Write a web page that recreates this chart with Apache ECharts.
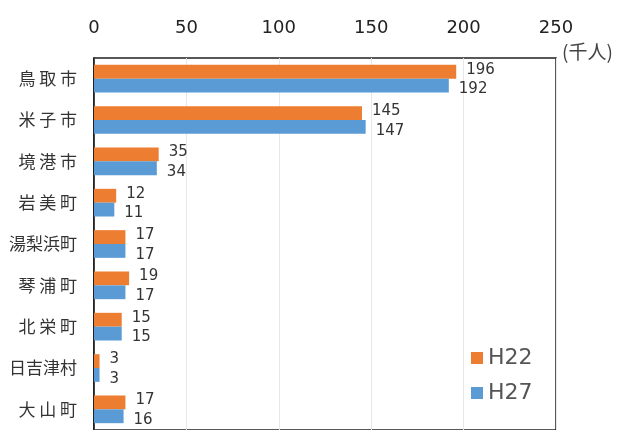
<!DOCTYPE html>
<html>
<head>
<meta charset="utf-8">
<script src="https://cdn.jsdelivr.net/npm/echarts@6/dist/echarts.min.js"></script>
<style>
  html, body { margin: 0; padding: 0; background: #fff; }
  #chart { width: 623px; height: 430px; }
</style>
</head>
<body>
<div id="chart"></div>
<script>
// 市町村ごとの人口（千人）
const cities = ['鳥取市', '米子市', '境港市', '岩美町', '湯梨浜町', '琴浦町', '北栄町', '日吉津村', '大山町'];
const h22 = [196, 145, 35, 12, 17, 19, 15, 3, 17];
const h27 = [192, 147, 34, 11, 17, 17, 15, 3, 16];
const seriesNames = ['H22', 'H27'];
const xTicks = [0, 50, 100, 150, 200, 250];

const FONT = '"Noto Sans CJK JP", "Noto Sans", sans-serif';
const NUM_FONT = '"DejaVu Sans", sans-serif';

const chart = echarts.init(document.getElementById('chart'));

function barLabel(dy) {
  return {
    show: true,
    position: 'right',
    distance: 10,
    offset: [0, dy],
    color: '#333',
    fontSize: 15,
    fontFamily: NUM_FONT,
  };
}

const option = {
  backgroundColor: '#fff',
  animation: false,
  color: ['#ED7D31', '#5B9BD5'],
  grid: {
    left: 94,
    top: 58,
    right: 67,
    height: 378,
    show: true,
    borderColor: '#222',
    borderWidth: 1.5,
  },
  legend: {
    data: seriesNames,
    orient: 'vertical',
    left: 466,
    top: 342,
    itemWidth: 12,
    itemHeight: 12,
    itemGap: 13,
    icon: 'rect',
    textStyle: { color: '#555', fontSize: 22, fontFamily: NUM_FONT },
  },
  xAxis: {
    type: 'value',
    position: 'top',
    min: xTicks[0],
    max: xTicks[xTicks.length - 1],
    interval: 50,
    axisLine: { show: false },
    axisTick: { show: false },
    axisLabel: { color: '#222', fontSize: 18, fontFamily: NUM_FONT, margin: 21 },
    splitLine: { show: true, lineStyle: { color: '#e8e8e8', width: 1 } },
  },
  yAxis: {
    type: 'category',
    data: cities,
    inverse: true,
    axisLine: { show: true, lineStyle: { color: '#111', width: 1.5 } },
    axisTick: { show: false },
    axisLabel: {
      color: '#333',
      fontSize: 17,
      fontFamily: FONT,
      margin: 17,
      formatter: (v) => (v.length === 3 ? v.split('').join(' ') : v),
    },
  },
  graphic: [
    {
      type: 'text',
      left: 562,
      top: 42,
      style: { text: '(千人)', fill: '#444', fontSize: 19, fontFamily: FONT },
    },
  ],
  series: [
    {
      name: seriesNames[0],
      type: 'bar',
      data: h22,
      barGap: '0%',
      barCategoryGap: '33%',
      label: barLabel(-2),
    },
    {
      name: seriesNames[1],
      type: 'bar',
      data: h27,
      label: barLabel(4),
    },
  ],
};

chart.setOption(option);
</script>
</body>
</html>
